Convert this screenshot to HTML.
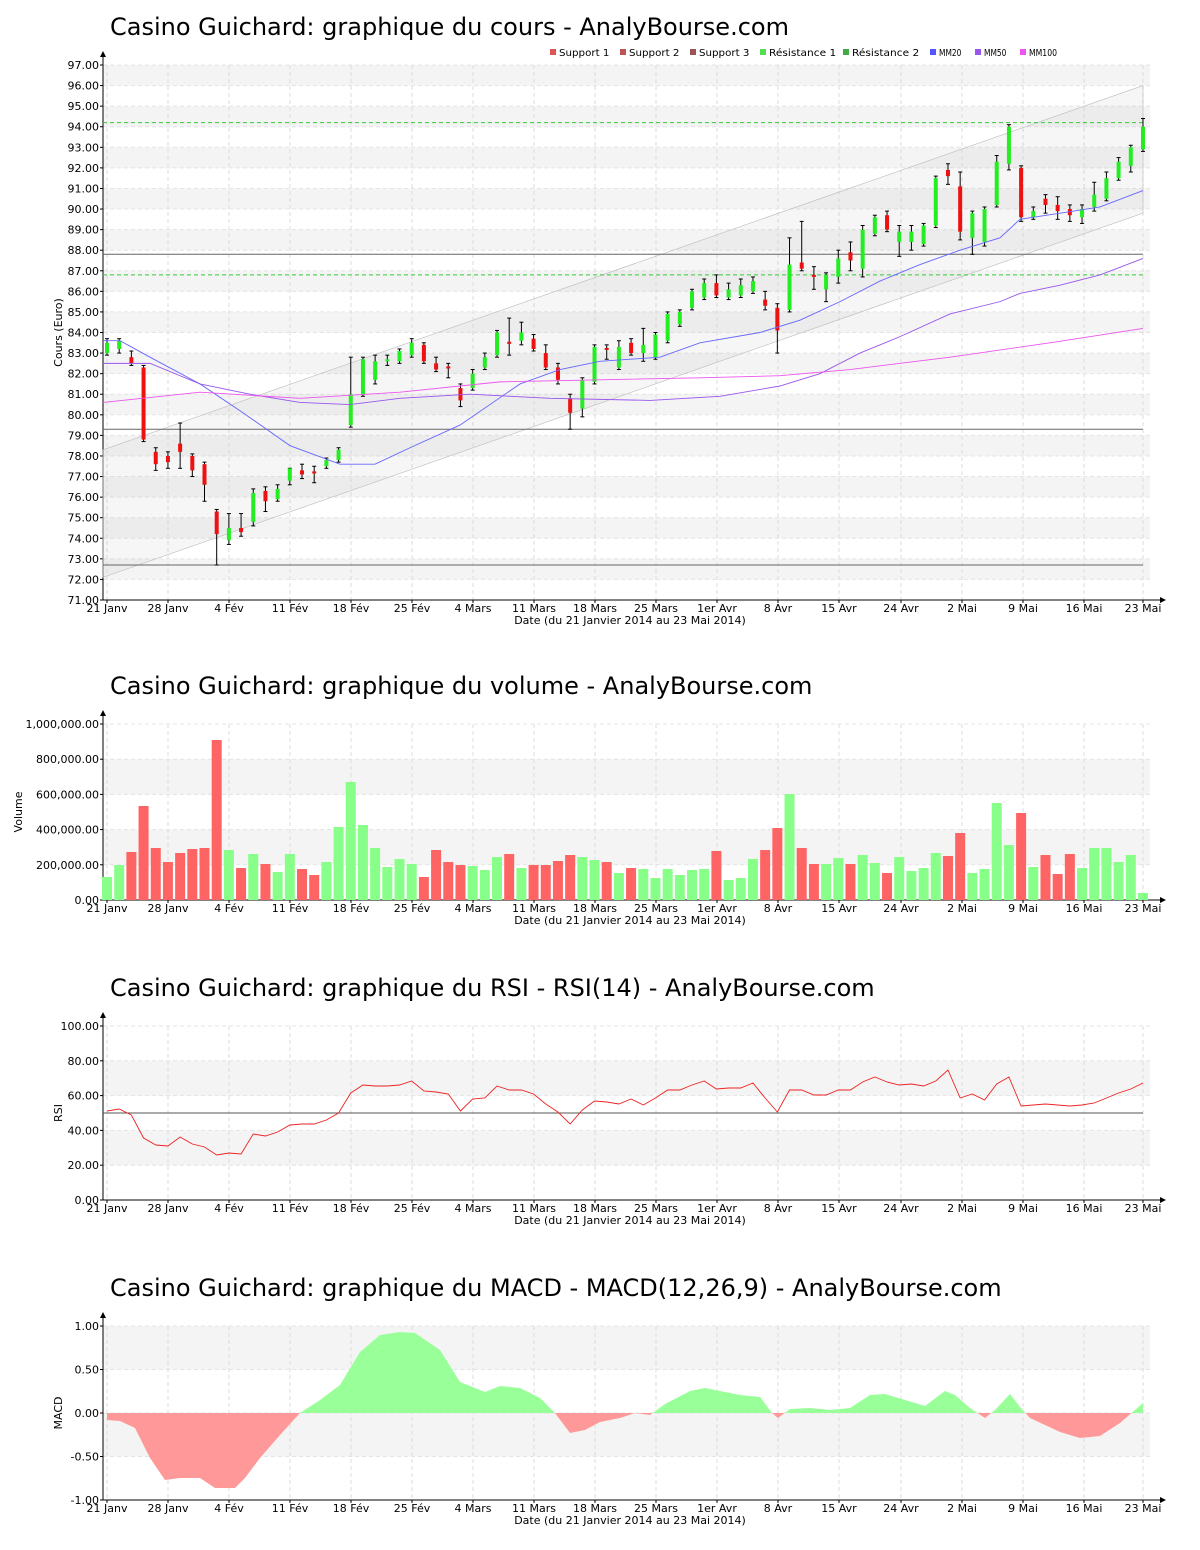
<!DOCTYPE html>
<html><head><meta charset="utf-8"><style>
body{margin:0;background:#fff;}
svg{display:block;font-family:"DejaVu Sans","Liberation Sans",sans-serif;}
</style></head><body>
<svg id="s" width="1200" height="1550" xmlns="http://www.w3.org/2000/svg"></svg>
<script>
const S=document.getElementById('s');let h='';
const X0=103,X1=1150;
const xs=i=>107+i*12.188;
const ticks=[["21 Janv",107],["28 Janv",168],["4 Fév",229],["11 Fév",290],["18 Fév",351],["25 Fév",412],["4 Mars",473],["11 Mars",534],["18 Mars",595],["25 Mars",656],["1er Avr",717],["8 Avr",778],["15 Avr",839],["24 Avr",901],["2 Mai",962],["9 Mai",1023],["16 Mai",1084],["23 Mai",1143]];
function frame(top,bot,title,ylab,tickVals,fy,fmt,bandStep,vmin,vmax){
 h+=`<text x="110" y="${top-30}" font-size="24" fill="#000">${title}</text>`;
 let k=0;for(let v=vmin;v<vmax-1e-9;v+=bandStep){if(k%2==1){const y1=fy(v+bandStep),y2=fy(v);h+=`<rect x="${X0}" y="${y1}" width="${X1-X0}" height="${y2-y1}" fill="#f4f4f4"/>`}k++;}
 for(const t of ticks){h+=`<line x1="${t[1]}" y1="${top}" x2="${t[1]}" y2="${bot}" stroke="#ddd" stroke-dasharray="4,3"/>`;}
 for(const v of tickVals){const y=fy(v);h+=`<line x1="${X0}" y1="${y}" x2="${X1}" y2="${y}" stroke="#e4e4e4" stroke-dasharray="4,3"/><line x1="${X0-3}" y1="${y}" x2="${X0}" y2="${y}" stroke="#000"/><text x="${X0-4}" y="${y+4}" font-size="11" text-anchor="end">${fmt(v)}</text>`;}
 h+=`<line x1="${X0}" y1="${bot}" x2="${X0}" y2="${top-10}" stroke="#000"/><path d="M${X0-3} ${top-8}L${X0} ${top-14}L${X0+3} ${top-8}Z"/>`;
 h+=`<line x1="${X0}" y1="${bot}" x2="1162" y2="${bot}" stroke="#000"/><path d="M1160 ${bot-3}L1166 ${bot}L1160 ${bot+3}Z"/>`;
 for(const t of ticks){h+=`<line x1="${t[1]}" y1="${bot}" x2="${t[1]}" y2="${bot+3}" stroke="#000"/><text x="${t[1]}" y="${bot+12}" font-size="11" text-anchor="middle">${t[0]}</text>`;}
 h+=`<text x="630" y="${bot+24}" font-size="11" text-anchor="middle">Date (du 21 Janvier 2014 au 23 Mai 2014)</text>`;
 const my=(top+bot)/2;h+=`<text transform="translate(${ylab[1]},${my}) rotate(-90)" font-size="11" text-anchor="middle">${ylab[0]}</text>`;
}
const py=v=>600-(v-71)*20.577;
frame(65,600,"Casino Guichard: graphique du cours - AnalyBourse.com",["Cours (Euro)",62],[...Array(27).keys()].map(i=>71+i),py,v=>v.toFixed(2),1,71,97);
h+=`<polygon points="103,${py(78.3)} 1143,${py(96)} 1143,${py(89.8)} 103,${py(72.1)}" fill="#999" fill-opacity="0.09" stroke="#bbb" stroke-width="0.6"/>`;
for(const v of [87.8,79.3,72.7])h+=`<line x1="103" y1="${py(v)}" x2="1143" y2="${py(v)}" stroke="#666"/>`;
for(const v of [94.2,86.8])h+=`<line x1="103" y1="${py(v)}" x2="1143" y2="${py(v)}" stroke="#3c3" stroke-dasharray="4,3"/>`;
const C=[[83,83.5,83.7,82.9],[83.2,83.6,83.7,83],[82.8,82.5,83.1,82.4],[82.3,78.8,82.4,78.7],[78.2,77.6,78.4,77.3],[78,77.7,78.2,77.4],[78.6,78.2,79.6,77.4],[78,77.3,78.1,77],[77.6,76.6,77.7,75.8],[75.3,74.2,75.4,72.7],[73.9,74.5,75.2,73.7],[74.5,74.3,75.2,74.1],[74.8,76.2,76.4,74.6],[76.3,75.8,76.5,75.3],[75.9,76.4,76.6,75.8],[76.8,77.4,77.4,76.6],[77.3,77.1,77.6,76.9],[77.25,77.15,77.5,76.7],[77.5,77.8,77.9,77.4],[77.8,78.3,78.4,77.7],[79.5,81,82.8,79.4],[81,82.7,82.8,80.9],[81.7,82.6,82.9,81.5],[82.6,82.7,82.9,82.4],[82.6,83.1,83.2,82.5],[82.9,83.5,83.7,82.8],[83.4,82.6,83.5,82.5],[82.5,82.2,82.8,82.1],[82.35,82.25,82.5,81.8],[81.3,80.7,81.5,80.4],[81.3,82,82.2,81.2],[82.3,82.8,83,82.2],[82.9,84,84.1,82.8],[83.55,83.45,84.7,82.9],[83.6,84,84.5,83.4],[83.7,83.2,83.9,83.1],[83,82.3,83.4,82.2],[82.3,81.7,82.5,81.5],[80.8,80.1,81,79.3],[80.3,81.7,81.8,79.9],[81.6,83.3,83.4,81.5],[83.25,83.15,83.4,82.7],[82.3,83.3,83.6,82.2],[83.5,83,83.7,82.9],[83,83.4,84.2,82.6],[82.8,83.9,84,82.7],[83.6,84.9,85,83.5],[84.4,85,85.1,84.3],[85.2,86,86.1,85.1],[85.7,86.4,86.6,85.6],[86.4,85.8,86.8,85.7],[85.7,86.1,86.4,85.6],[85.8,86.3,86.6,85.7],[86,86.5,86.7,85.9],[85.6,85.3,86,85.1],[85.2,84.1,85.4,83],[85.1,87.3,88.6,85],[87.4,87.1,89.4,87],[86.8,86.7,87.2,86.1],[86.1,86.8,86.9,85.5],[86.7,87.6,88,86.4],[87.9,87.5,88.4,87],[87.1,89,89.2,86.7],[88.8,89.6,89.7,88.7],[89.7,89,89.9,88.9],[88.4,88.9,89.2,87.7],[88.4,88.9,89.2,88],[88.3,89.2,89.3,88.2],[89.2,91.5,91.6,89.1],[91.9,91.6,92.2,91.2],[91.1,88.9,91.8,88.5],[88.6,89.8,89.9,87.8],[88.4,90,90.1,88.2],[90.2,92.3,92.6,90.1],[92.2,94,94.1,91.9],[92,89.6,92.1,89.4],[89.6,89.9,90.1,89.5],[90.5,90.2,90.7,89.8],[90.2,89.9,90.6,89.5],[90,89.7,90.2,89.4],[89.6,90,90.2,89.3],[90.1,90.7,91.3,89.9],[90.5,91.5,91.8,90.4],[91.5,92.3,92.5,91.4],[92.1,93,93.1,91.8],[92.9,94,94.4,92.8]];
C.forEach((c,i)=>{const x=xs(i);const up=c[1]>=c[0];h+=`<line x1="${x}" y1="${py(c[2])}" x2="${x}" y2="${py(c[3])}" stroke="#000"/><line x1="${x-2}" y1="${py(c[2])}" x2="${x+2}" y2="${py(c[2])}" stroke="#000"/><line x1="${x-2}" y1="${py(c[3])}" x2="${x+2}" y2="${py(c[3])}" stroke="#000"/>`;const t=py(Math.max(c[0],c[1])),b=py(Math.min(c[0],c[1]));h+=`<rect x="${x-2}" y="${t}" width="4" height="${Math.max(b-t,2)}" fill="${up?'#22ee22':'#ee1111'}"/>`;});
function pl(pts,col){h+=`<polyline fill="none" stroke="${col}" stroke-width="0.9" points="${pts.map(p=>p[0]+','+py(p[1])).join(' ')}"/>`;}
pl([[103,83.6],[120,83.6],[150,82.8],[200,81.5],[240,80.2],[290,78.5],[340,77.6],[375,77.6],[410,78.4],[460,79.5],[520,81.5],[560,82.2],[600,82.6],[660,82.8],[700,83.5],[760,84],[800,84.6],[840,85.5],[880,86.5],[920,87.3],[960,88],[1000,88.6],[1020,89.5],[1060,89.8],[1100,90.1],[1143,90.9]],"#6666ff");
pl([[103,82.5],[150,82.5],[200,81.5],[250,81],[300,80.6],[350,80.5],[400,80.8],[470,81],[550,80.8],[650,80.7],[720,80.9],[780,81.4],[820,82],[860,83],[900,83.8],[950,84.9],[1000,85.5],[1020,85.9],[1060,86.3],[1100,86.8],[1143,87.6]],"#9955ee");
pl([[103,80.6],[200,81.1],[300,80.8],[400,81.1],[500,81.6],[600,81.7],[700,81.8],[780,81.9],[850,82.2],[950,82.8],[1050,83.5],[1143,84.2]],"#ee55ee");
const L=[["Support 1","#d55",550],["Support 2","#b55",620],["Support 3","#955",690],["Résistance 1","#5d5",760],["Résistance 2","#4a4",843],["MM20","#55f",930],["MM50","#95e",975],["MM100","#e5e",1020]];
for(const l of L){h+=`<rect x="${l[2]}" y="49" width="6" height="6" fill="${l[1]}"/><text x="${l[2]+9}" y="56" font-size="10" textLength="${l[0].length*5.6}" lengthAdjust="spacingAndGlyphs">${l[0]}</text>`;}
const vy=v=>900-v*176/1e6;
frame(724,900,"Casino Guichard: graphique du volume - AnalyBourse.com",["Volume",22],[0,2e5,4e5,6e5,8e5,1e6],vy,v=>v.toLocaleString('en-US')+".00",2e5,0,1e6);
const VT=[877,865,852,806,848,862,853,849,848,740,850,868,854,864,872,854,869,875,862,827,782,825,848,867,859,864,877,850,862,865,866,870,857,854,868,865,865,861,855,857,860,862,873,868,869,878,869,875,870,869,851,880,878,859,850,828,794,848,864,864,858,864,855,863,873,857,871,868,853,856,833,873,869,803,845,813,867,855,874,854,868,848,848,862,855,893];
VT.forEach((t,i)=>{const c=C[i];const up=c[1]>=c[0];const x=xs(i);h+=`<rect x="${x-5}" y="${t}" width="10" height="${900-t}" fill="${up?'#88ff88':'#ff6464'}"/>`;});
const ry=v=>1200-v*1.74;
frame(1026,1200,"Casino Guichard: graphique du RSI - RSI(14) - AnalyBourse.com",["RSI",62],[0,20,40,60,80,100],ry,v=>v.toFixed(2),20,0,100);
h+=`<line x1="103" y1="${ry(50)}" x2="1143" y2="${ry(50)}" stroke="#555"/>`;
const RY=[1111,1109,1115,1138,1145,1146,1137,1144,1147,1155,1153,1154,1134,1136,1132,1125,1124,1124,1120,1113,1093,1085,1086,1086,1085,1081,1091,1092,1094,1111,1099,1098,1086,1090,1090,1094,1104,1112,1124,1110,1101,1102,1104,1099,1105,1098,1090,1090,1085,1081,1089,1088,1088,1083,1098,1112,1090,1090,1095,1095,1090,1090,1082,1077,1082,1085,1084,1086,1081,1070,1098,1094,1100,1084,1077,1106,1105,1104,1105,1106,1105,1103,1098,1093,1089,1083];
h+=`<polyline fill="none" stroke="#ee2222" stroke-width="0.9" points="${RY.map((y,i)=>xs(i)+','+y).join(' ')}"/>`;
const my=v=>1413-v*87;
frame(1326,1500,"Casino Guichard: graphique du MACD - MACD(12,26,9) - AnalyBourse.com",["MACD",62],[-1,-0.5,0,0.5,1],my,v=>v.toFixed(2),0.5,-1,1);
const M=[[107,1420],[120,1421],[135,1428],[150,1458],[165,1480],[180,1478],[200,1478],[215,1488],[235,1488],[245,1478],[260,1458],[280,1435],[300,1413],[320,1400],[340,1385],[360,1352],[380,1335],[400,1332],[415,1333],[440,1350],[460,1382],[485,1392],[500,1386],[520,1388],[540,1398],[555,1413],[570,1433],[585,1430],[600,1422],[620,1418],[635,1413],[650,1415],[665,1404],[690,1391],[705,1388],[725,1392],[740,1395],[760,1397],[772,1413],[778,1418],[790,1409],[810,1408],[830,1410],[850,1408],[870,1395],[885,1394],[905,1400],[925,1406],[945,1391],[955,1395],[970,1408],[985,1418],[995,1410],[1010,1394],[1020,1407],[1030,1418],[1060,1432],[1080,1438],[1100,1436],[1120,1423],[1143,1403]];
const poly=`107,1413 ${M.map(p=>p.join(',')).join(' ')} 1143,1413`;
h+=`<defs><clipPath id="ca"><rect x="0" y="1300" width="1200" height="113"/></clipPath><clipPath id="cb"><rect x="0" y="1413" width="1200" height="100"/></clipPath></defs>`;
h+=`<polygon points="${poly}" fill="#99ff99" clip-path="url(#ca)"/><polygon points="${poly}" fill="#ff9999" clip-path="url(#cb)"/>`;
S.innerHTML=h;
</script>
</body></html>
